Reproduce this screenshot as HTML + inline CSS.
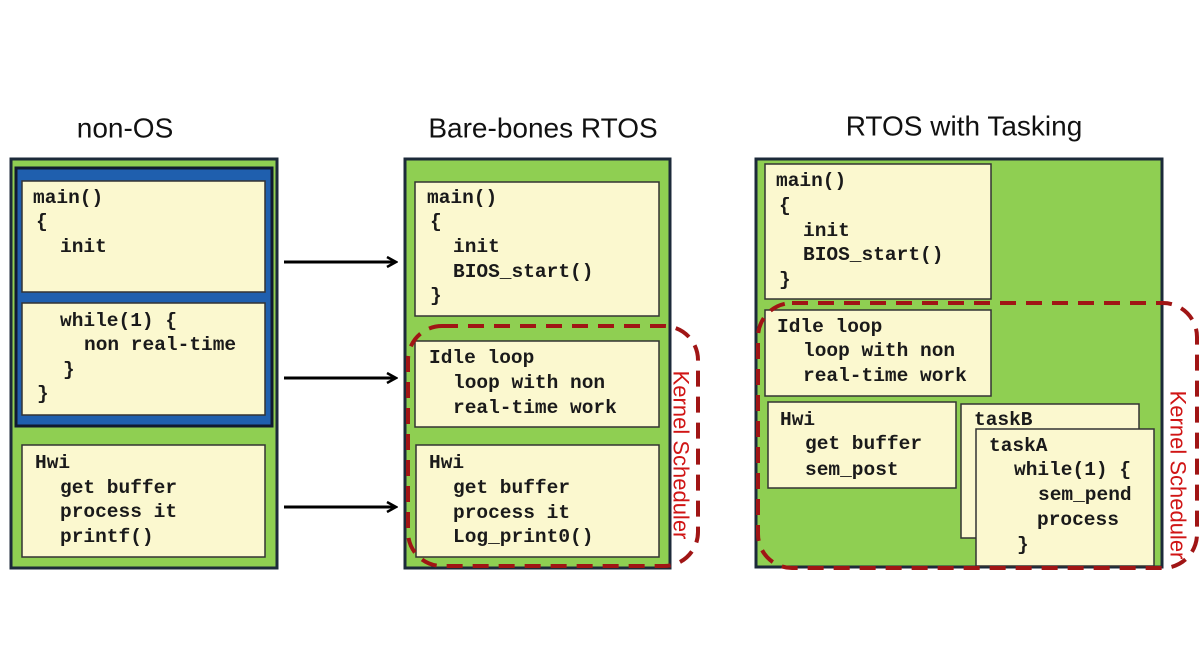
<!DOCTYPE html>
<html><head><meta charset="utf-8"><style>
html,body{margin:0;padding:0;background:#fff;}
svg{display:block;}
.c{font-family:"Liberation Mono",monospace;font-weight:bold;font-size:19.5px;fill:#1a1a1a;dominant-baseline:central;}
.t{font-family:"Liberation Sans",sans-serif;font-size:28px;fill:#111;text-anchor:middle;dominant-baseline:central;}
.y{fill:#fbf8cf;stroke:#333;stroke-width:1.5;}
.g{fill:#8fcf52;stroke:#1c2a3a;stroke-width:3;}
.d{fill:none;stroke:#a01515;stroke-width:4;stroke-dasharray:16,10;}
</style></head><body>
<svg width="1200" height="649" viewBox="0 0 1200 649">
<defs><marker id="a" markerWidth="12" markerHeight="12" refX="10" refY="6" orient="auto" markerUnits="userSpaceOnUse"><path d="M1,1 L10,6 L1,11" fill="none" stroke="#000" stroke-width="2.5"/></marker></defs>
<text class="t" x="125" y="128">non-OS</text>
<text class="t" x="543" y="128">Bare-bones RTOS</text>
<text class="t" x="964" y="126">RTOS with Tasking</text>

<!-- left -->
<rect class="g" x="11" y="159" width="266" height="409"/>
<rect x="16" y="168" width="256" height="258" fill="#1f5fae" stroke="#101a30" stroke-width="3"/>
<rect class="y" x="22" y="181" width="243" height="111"/>
<rect class="y" x="22" y="303" width="243" height="112"/>
<rect class="y" x="22" y="445" width="243" height="112"/>
<text class="c" x="33" y="198">main()</text>
<text class="c" x="36" y="222">{</text>
<text class="c" x="60" y="247">init</text>
<text class="c" x="60" y="321">while(1) {</text>
<text class="c" x="84" y="345">non real-time</text>
<text class="c" x="63" y="370">}</text>
<text class="c" x="37" y="394">}</text>
<text class="c" x="35" y="463">Hwi</text>
<text class="c" x="60" y="488">get buffer</text>
<text class="c" x="60" y="512">process it</text>
<text class="c" x="60" y="537">printf()</text>

<g stroke="#000" stroke-width="3" marker-end="url(#a)">
<line x1="284" y1="262" x2="396" y2="262"/>
<line x1="284" y1="378" x2="396" y2="378"/>
<line x1="284" y1="507" x2="396" y2="507"/>
</g>

<!-- middle -->
<rect class="g" x="405" y="159" width="265" height="409"/>
<rect class="y" x="415" y="182" width="244" height="134"/>
<rect class="y" x="415" y="341" width="244" height="86"/>
<rect class="y" x="416" y="445" width="243" height="112"/>
<text class="c" x="427" y="198">main()</text>
<text class="c" x="430" y="222">{</text>
<text class="c" x="453" y="247">init</text>
<text class="c" x="453" y="272">BIOS_start()</text>
<text class="c" x="430" y="296">}</text>
<text class="c" x="429" y="358">Idle loop</text>
<text class="c" x="453" y="383">loop with non</text>
<text class="c" x="453" y="408">real-time work</text>
<text class="c" x="429" y="463">Hwi</text>
<text class="c" x="453" y="488">get buffer</text>
<text class="c" x="453" y="513">process it</text>
<text class="c" x="453" y="537">Log_print0()</text>
<rect class="d" x="408" y="326" width="290" height="240" rx="34"/>
<text x="681" y="455" transform="rotate(90 681 455)" font-family="Liberation Sans,sans-serif" font-size="22" fill="#d01515" text-anchor="middle" dominant-baseline="central">Kernel Scheduler</text>

<!-- right -->
<rect class="g" x="756" y="159" width="406" height="408"/>
<rect class="y" x="765" y="164" width="226" height="135"/>
<rect class="y" x="765" y="310" width="226" height="86"/>
<rect class="y" x="768" y="402" width="188" height="86"/>
<rect class="y" x="961" y="404" width="178" height="134"/>
<text class="c" x="974" y="420">taskB</text>
<rect class="y" x="976" y="429" width="178" height="137"/>
<text class="c" x="776" y="181">main()</text>
<text class="c" x="779" y="206">{</text>
<text class="c" x="803" y="231">init</text>
<text class="c" x="803" y="255">BIOS_start()</text>
<text class="c" x="779" y="280">}</text>
<text class="c" x="777" y="327">Idle loop</text>
<text class="c" x="803" y="351">loop with non</text>
<text class="c" x="803" y="376">real-time work</text>
<text class="c" x="780" y="420">Hwi</text>
<text class="c" x="805" y="444">get buffer</text>
<text class="c" x="805" y="470">sem_post</text>
<text class="c" x="989" y="446">taskA</text>
<text class="c" x="1014" y="470">while(1) {</text>
<text class="c" x="1038" y="495">sem_pend</text>
<text class="c" x="1037" y="520">process</text>
<text class="c" x="1017" y="545">}</text>
<rect class="d" x="758" y="303" width="439" height="265" rx="34"/>
<text x="1178" y="475" transform="rotate(90 1178 475)" font-family="Liberation Sans,sans-serif" font-size="22" fill="#d01515" text-anchor="middle" dominant-baseline="central">Kernel Scheduler</text>
</svg>
</body></html>
